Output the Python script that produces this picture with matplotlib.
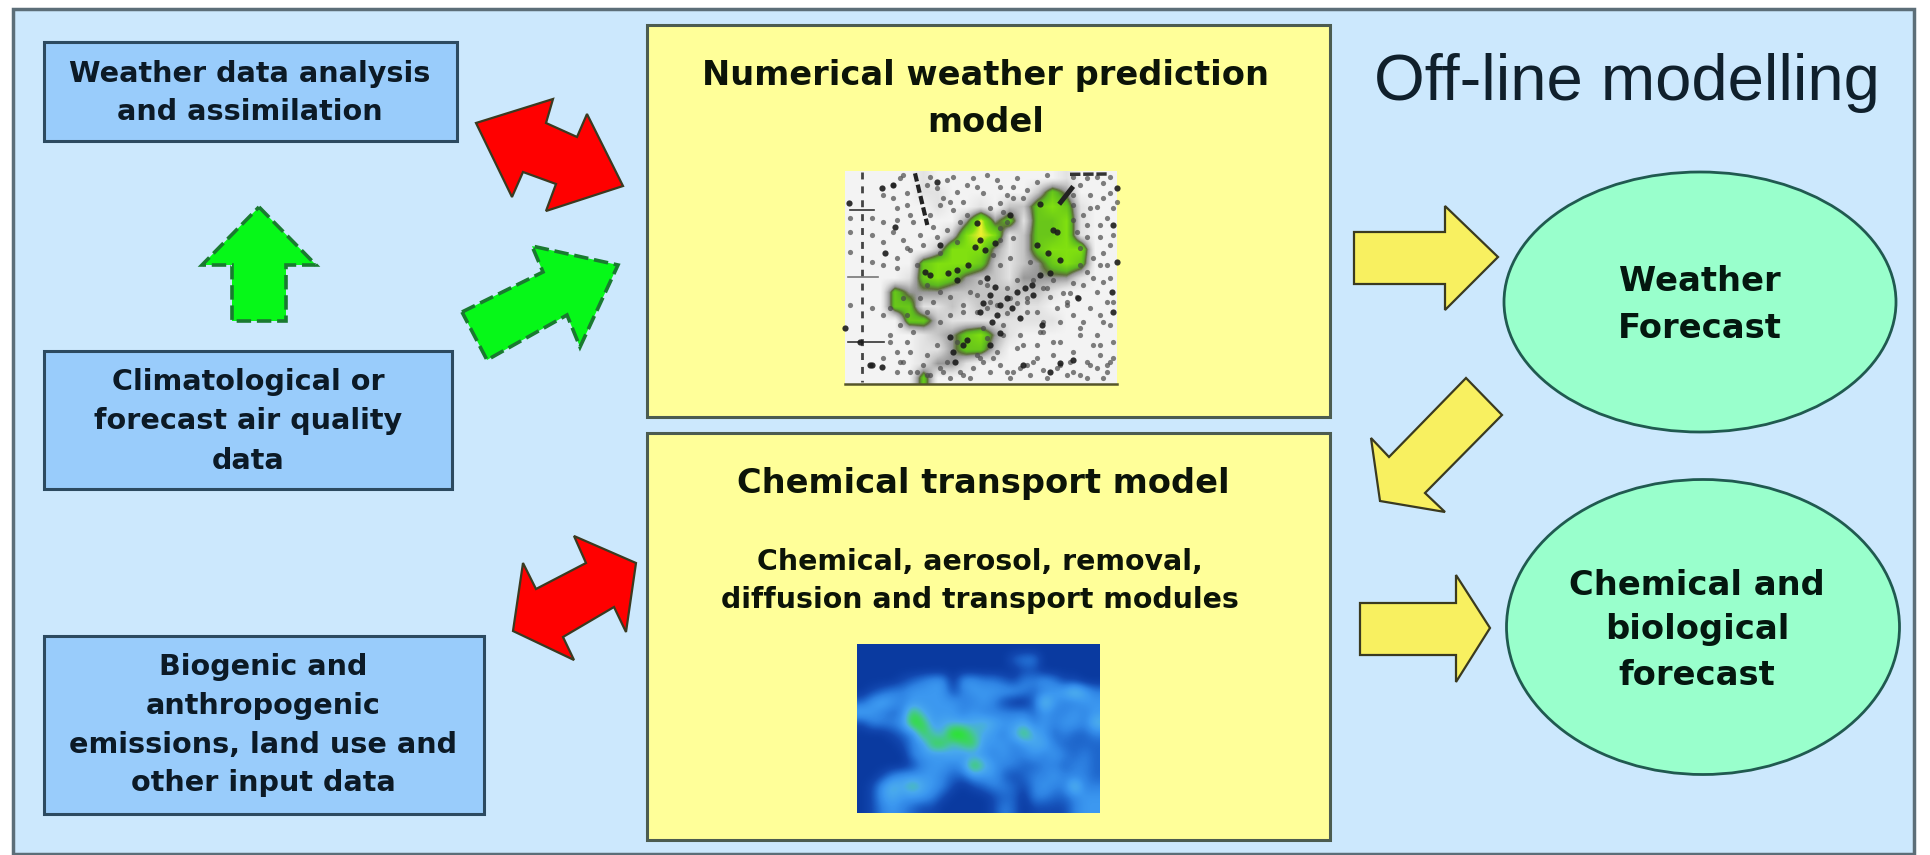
#!/usr/bin/env python3
"""Off-line modelling flow diagram, drawn in pixel coordinates of the 1931x855 page."""

import matplotlib
matplotlib.use("Agg")
import matplotlib.pyplot as plt
from matplotlib.colors import LinearSegmentedColormap
from matplotlib.patches import Ellipse, Polygon, Rectangle
import numpy as np

TITLE = "Off-line modelling"
INPUT_LABELS = [
    ["Weather data analysis", "and assimilation"],
    ["Climatological or", "forecast air quality", "data"],
    ["Biogenic and", "anthropogenic", "emissions, land use and", "other input data"],
]
NWP_LABEL = ["Numerical weather prediction", "model"]
CTM_LABEL = "Chemical transport model"
CTM_DETAIL = ["Chemical, aerosol, removal,", "diffusion and transport modules"]
FORECAST_LABELS = [["Weather", "Forecast"], ["Chemical and", "biological", "forecast"]]

CTM_MAP = [
    [0, 0, 0, 0, 0, 0, 0, 0, 0, 0, 0, 0, 0, 0, 0, 0, 0, 0, 0, 0, 0, 0, 0, 0],
    [0, 0, 0, 0, 0, 0, 0, 0, 0, 0, 0, 0, 0, 0, 0, 2, 3, 3, 0, 0, 0, 0, 0, 0],
    [0, 0, 0, 0, 0, 0, 0, 0, 0, 0, 0, 0, 0, 0, 0, 0, 1, 1, 0, 0, 0, 0, 0, 0],
    [0, 0, 0, 0, 1, 2, 3, 4, 4, 0, 4, 4, 3, 3, 2, 1, 3, 3, 4, 3, 1, 1, 0, 0],
    [0, 1, 2, 3, 3, 4, 4, 4, 4, 1, 3, 4, 4, 4, 4, 4, 3, 2, 3, 4, 5, 7, 5, 3],
    [2, 4, 5, 4, 3, 4, 4, 4, 4, 4, 3, 3, 4, 3, 1, 0, 0, 2, 7, 4, 3, 3, 4, 4],
    [5, 4, 3, 2, 3, 8, 5, 4, 4, 4, 3, 4, 3, 3, 3, 3, 3, 2, 4, 3, 3, 4, 3, 4],
    [1, 3, 3, 3, 4, 9, 8, 4, 5, 5, 5, 5, 6, 5, 4, 4, 5, 3, 4, 3, 4, 4, 3, 6],
    [0, 0, 0, 1, 2, 3, 8, 6, 5, 10, 9, 6, 5, 4, 3, 5, 8, 5, 4, 2, 3, 2, 2, 3],
    [0, 0, 0, 0, 1, 3, 4, 8, 8, 5, 7, 8, 4, 4, 4, 3, 4, 5, 5, 3, 2, 2, 2, 2],
    [0, 0, 0, 0, 0, 3, 4, 4, 4, 5, 4, 4, 4, 3, 4, 3, 3, 4, 3, 4, 3, 2, 3, 2],
    [0, 0, 0, 0, 0, 1, 3, 4, 4, 3, 4, 9, 6, 4, 3, 3, 2, 2, 3, 3, 2, 3, 3, 2],
    [0, 0, 1, 3, 4, 4, 4, 4, 3, 2, 2, 4, 4, 4, 2, 1, 2, 3, 3, 4, 3, 3, 3, 2],
    [0, 1, 4, 6, 5, 7, 5, 4, 3, 1, 0, 1, 2, 3, 3, 2, 1, 3, 4, 3, 3, 7, 3, 3],
    [0, 1, 4, 5, 4, 4, 4, 3, 1, 0, 0, 0, 0, 1, 2, 2, 0, 3, 3, 2, 2, 3, 4, 4],
    [0, 1, 3, 4, 3, 2, 1, 1, 0, 0, 0, 0, 0, 1, 3, 2, 0, 1, 1, 1, 1, 3, 4, 4],
]

# weather map haze and cloud cover: 0 paper, 1-3 grey, 4 dark, 5-6 green, 7 yellow
NWP_MAP = [
    [0, 0, 0, 0, 0, 1, 0, 0, 0, 0, 0, 0, 0, 0, 0, 1, 0, 0, 0],
    [0, 0, 0, 0, 0, 1, 1, 0, 0, 0, 0, 0, 0, 2, 5, 3, 0, 0, 0],
    [0, 0, 0, 0, 0, 0, 1, 0, 0, 1, 0, 2, 2, 5, 6, 5, 1, 0, 0],
    [0, 0, 0, 0, 0, 0, 0, 0, 3, 7, 3, 5, 1, 5, 5, 6, 1, 0, 0],
    [0, 0, 0, 0, 0, 0, 0, 2, 6, 7, 6, 1, 2, 5, 5, 6, 1, 0, 0],
    [0, 0, 0, 0, 0, 0, 2, 6, 6, 6, 3, 1, 2, 5, 6, 6, 6, 0, 0],
    [0, 0, 0, 0, 0, 5, 6, 6, 6, 5, 2, 1, 2, 3, 5, 6, 5, 0, 0],
    [0, 0, 0, 0, 1, 5, 6, 5, 3, 2, 2, 1, 3, 3, 3, 3, 1, 0, 0],
    [0, 0, 0, 5, 3, 3, 3, 2, 2, 2, 2, 2, 2, 2, 1, 0, 0, 0, 0],
    [0, 0, 0, 5, 5, 1, 1, 2, 1, 2, 2, 2, 1, 1, 0, 0, 0, 0, 0],
    [0, 0, 0, 0, 5, 5, 2, 1, 1, 1, 1, 1, 1, 1, 1, 0, 0, 0, 0],
    [0, 0, 0, 0, 0, 1, 2, 3, 5, 6, 3, 1, 0, 0, 0, 0, 0, 0, 0],
    [0, 0, 0, 0, 0, 1, 1, 3, 5, 5, 2, 0, 0, 0, 0, 0, 0, 0, 0],
    [0, 0, 0, 0, 0, 1, 3, 3, 1, 0, 0, 0, 0, 0, 0, 0, 0, 0, 0],
    [0, 0, 0, 0, 0, 5, 0, 0, 0, 0, 0, 0, 0, 0, 0, 0, 0, 0, 0],
]

# station plots (3x crop pixels)
DARK_SPECKS_X = [28, 125, 165, 135, 300, 410, 465, 600, 640, 660, 630, 555, 450, 430, 515, 470, 540, 605,
                 715, 820, 830, 820, 830, 815, 370, 340, 95, 125, 330, 450, 480, 550, 660, 700, 630, 350, 270,
                 350, 405, 435, 600, 580, 160, 290, 510, 255, 325, 385, 420, 590, 625, 650, 440, 465, 500, 480,
                 530, 455, 420, 575, 345, 380, 90, 15, 60]
DARK_SPECKS_Y = [115, 68, 185, 265, 240, 175, 235, 118, 195, 285, 325, 370, 390, 415, 430, 450, 460, 480,
                 400, 440, 70, 180, 290, 380, 540, 560, 600, 605, 515, 540, 505, 600, 595, 585, 620, 345, 330,
                 315, 245, 255, 330, 390, 60, 50, 150, 320, 325, 300, 225, 240, 265, 200, 340, 365, 400, 420,
                 380, 470, 440, 360, 590, 525, 600, 490, 530]
GREY_SPECKS_X = [180, 200, 270, 290, 320, 350, 380, 400, 430, 470, 500, 530, 560, 590, 620, 720, 750, 790, 810,
                 170, 210, 300, 340, 370, 450, 490, 520, 700, 730, 770, 800, 820, 160, 190, 240, 280, 320, 360,
                 480, 710, 740, 780, 810, 170, 200, 250, 300, 720, 760, 790, 170, 230, 480, 510, 570, 640, 700,
                 740, 780, 810, 280, 330, 390, 440, 500, 560, 620, 680, 730, 770, 800, 190, 260, 410, 470, 530,
                 590, 650, 700, 750, 790, 180, 220, 300, 430, 490, 540, 600, 660, 720, 770, 810, 170, 210, 260,
                 320, 410, 470, 530, 590, 640, 700, 760, 800, 180, 230, 400, 460, 520, 580, 640, 700, 750, 790,
                 270, 330, 390, 450, 510, 570, 620, 680, 740, 800,
                 160, 190, 260, 310, 340, 410, 440, 480, 520, 550, 700, 740, 770, 810, 130, 160, 200, 330, 380,
                 480, 500, 700, 750, 790, 830, 170, 220, 270, 480, 520, 700, 740, 780, 820, 210, 290, 350, 420,
                 460, 530, 580, 610, 690, 720, 760, 800, 240, 300, 370, 410, 450, 510, 560, 630, 670, 710, 790,
                 820, 150, 200, 260, 330, 370, 440, 500, 560, 610, 680, 730, 780, 150, 200, 290, 350, 440, 490,
                 550, 610, 660, 720, 780, 820, 150, 190, 250, 300, 360, 420, 480, 540, 590, 650, 690, 740, 780,
                 820, 130, 170, 210, 260, 310, 370, 430, 500, 560, 610, 660, 720, 770, 810, 30, 95, 130, 95, 30,
                 130, 30, 95, 130, 30, 95, 130]
GREY_SPECKS_Y = [40, 85, 35, 70, 45, 80, 60, 40, 85, 45, 90, 40, 75, 50, 30, 60, 90, 55, 85,
                 130, 150, 120, 135, 110, 130, 140, 100, 120, 150, 125, 160, 130, 200, 225, 210, 185, 195, 170,
                 190, 200, 180, 215, 240, 280, 250, 240, 265, 250, 280, 265, 310, 300, 300, 280, 290, 345, 355,
                 320, 300, 340, 410, 395, 380, 360, 370, 400, 370, 410, 360, 380, 410, 400, 360, 440, 420, 415,
                 440, 430, 450, 430, 470, 480, 500, 470, 490, 480, 510, 500, 470, 490, 510, 480, 560, 560, 570,
                 590, 570, 560, 550, 540, 530, 560, 540, 600, 590, 620, 610, 580, 620, 590, 570, 620, 600, 640,
                 630, 640, 640, 620, 640, 630, 640, 630, 640, 620,
                 60, 30, 60, 100, 35, 65, 30, 65, 65, 100, 35, 40, 35, 35, 90, 100, 120, 110, 150,
                 115, 170, 90, 130, 100, 110, 165, 170, 150, 225, 220, 165, 215, 180, 210, 255, 215, 230, 350,
                 270, 345, 345, 370, 385, 300, 340, 300, 400, 380, 420, 390, 410, 400, 410, 395, 385, 395, 350,
                 410, 430, 450, 440, 450, 440, 430, 445, 440, 470, 420, 470, 450, 510, 530, 540, 530, 520, 510,
                 540, 500, 530, 510, 540, 530, 530, 590, 600, 610, 620, 580, 600, 610, 580, 610, 590, 590, 570,
                 580, 580, 620, 620, 630, 620, 630, 590, 620, 600, 615, 600, 630, 610, 590, 160, 160, 170, 210,
                 200, 230, 260, 290, 300, 420, 430, 450]
STROKE_X = [225, 262]
STROKE_Y = [25, 180]
CORNER_STROKE_X = [695, 662]
CORNER_STROKE_Y = [70, 112]
TOP_STROKE_X = [690, 800]
TOP_STROKE_Y = [28, 27]

PAGE_W, PAGE_H = 1931, 855
FRAME_EDGE = "#5c6e78"
PANEL_BG = "#cce8fd"
INPUT_BG = "#99ccfb"
MODEL_BG = "#ffff99"
FORECAST_BG = "#99ffcc"
ARROW_YELLOW = "#f8f060"
INK = "#0c1a26"
NWP_CROP = (840, 165)


def draw_lines(ax, lines, x, ys, size, color=INK):
    for line, y in zip(lines, ys):
        ax.text(x, y, line, ha="center", va="center", fontsize=size, fontweight="bold",
                family="DejaVu Sans", color=color, zorder=6)


def draw_box(ax, x0, y0, x1, y1, face, edge="#2c4a60", lw=2.2):
    ax.add_patch(Rectangle((x0, y0), x1 - x0, y1 - y0, facecolor=face, edgecolor=edge, linewidth=lw, zorder=2))


def draw_arrow(ax, pts, face, edge="#3a3a20", lw=1.6, dashed=False):
    ax.add_patch(Polygon(pts, closed=True, facecolor=face, edgecolor=edge, linewidth=lw,
                         linestyle=(0, (4, 1.6)) if dashed else "-", joinstyle="miter", zorder=4))


def crop_xy(xs, ys):
    return NWP_CROP[0] + np.array(xs) / 3, NWP_CROP[1] + np.array(ys) / 3


def main():
    fig = plt.figure(figsize=(PAGE_W / 100, PAGE_H / 100), dpi=100, facecolor="white")
    ax = fig.add_axes([0, 0, 1, 1])
    ax.set_xlim(0, PAGE_W)
    ax.set_ylim(PAGE_H, 0)
    ax.axis("off")

    draw_box(ax, 13, 9, 1914, 854, PANEL_BG, edge=FRAME_EDGE, lw=2.5)

    # input boxes on the left
    draw_box(ax, 44, 42, 457, 141, INPUT_BG)
    draw_box(ax, 44, 351, 452, 489, INPUT_BG)
    draw_box(ax, 44, 636, 484, 814, INPUT_BG)
    draw_lines(ax, INPUT_LABELS[0], 250, [74, 112], 20.6)
    draw_lines(ax, INPUT_LABELS[1], 248, [382, 421, 461], 20.6)
    draw_lines(ax, INPUT_LABELS[2], 263, [667, 706, 745, 783], 20.6)

    # model boxes in the middle
    draw_box(ax, 647, 25, 1330, 417, MODEL_BG, edge="#4c5c50")
    draw_box(ax, 647, 433, 1330, 840, MODEL_BG, edge="#4c5c50")
    draw_lines(ax, NWP_LABEL, 986, [76, 122], 24.2, color="#0c1408")
    draw_lines(ax, [CTM_LABEL], 983, [483], 24.2, color="#0c1408")
    draw_lines(ax, CTM_DETAIL, 980, [562, 600], 20.4, color="#0c1408")

    # weather map
    nwp_cmap = LinearSegmentedColormap.from_list(
        "nwp", [(0, "#f3f3f3"), (1 / 7, "#e2e2e2"), (2 / 7, "#c4c4c4"), (3 / 7, "#989898"),
                (3.6 / 7, "#5c7038"), (4.4 / 7, "#5cb820"), (6 / 7, "#80e010"), (1, "#f0f030")])
    ax.imshow(NWP_MAP, cmap=nwp_cmap, vmin=0, vmax=7, interpolation="bilinear",
              extent=(845, 1117, 385, 172), aspect="auto", zorder=3)
    ax.scatter(*crop_xy(GREY_SPECKS_X, GREY_SPECKS_Y), s=14, color="#4a4a4a", alpha=0.7, linewidths=0, zorder=3.2)
    ax.scatter(*crop_xy(DARK_SPECKS_X, DARK_SPECKS_Y), s=20, color="#1c1c1c", alpha=0.9, linewidths=0, zorder=3.3)
    ax.plot(*crop_xy(STROKE_X, STROKE_Y), color="#222222", lw=3, ls=(0, (2, 0.8)), zorder=3.3)
    ax.plot(*crop_xy(CORNER_STROKE_X, CORNER_STROKE_Y), color="#222222", lw=3.5, zorder=3.3)
    ax.plot(*crop_xy(TOP_STROKE_X, TOP_STROKE_Y), color="#333333", lw=2.5, ls=(0, (3, 0.8)), zorder=3.3)
    ax.plot([862, 862], [172, 382], color="#444444", lw=2, ls=(0, (2.5, 2.5)), zorder=3.2)
    ax.plot([850, 874], [210, 210], color="#333333", lw=1.2, zorder=3.2)
    ax.plot([848, 878], [277, 277], color="#777777", lw=1.2, zorder=3.2)
    ax.plot([848, 884], [342, 342], color="#333333", lw=1.2, zorder=3.2)
    ax.plot([845, 1117], [384, 384], color="#55552a", lw=1.8, zorder=3.4)

    # concentration map
    ctm_cmap = LinearSegmentedColormap.from_list(
        "ctm", [(0, "#0a3aa0"), (0.1, "#1248b0"), (0.2, "#1e66cc"), (0.3, "#2f84e4"), (0.4, "#3c98f0"),
                (0.5, "#48a8ee"), (0.6, "#48c0b0"), (0.7, "#40d070"), (0.8, "#30e040"), (1, "#10d010")])
    ax.imshow(CTM_MAP, cmap=ctm_cmap, vmin=0, vmax=10, interpolation="bicubic",
              extent=(857, 1100, 813, 645), aspect="auto", zorder=3)

    # arrows between inputs and models
    draw_arrow(ax, [(476, 123), (553, 99), (546, 123), (577, 137), (587, 114), (623, 186),
                    (546, 211), (556, 184), (523, 172), (512, 197)], "#ff0000")
    draw_arrow(ax, [(574, 536), (636, 563), (626, 632), (614, 607), (563, 637), (574, 660),
                    (513, 631), (523, 563), (536, 589), (586, 563)], "#ff0000")
    draw_arrow(ax, [(259, 207), (316, 265), (286, 265), (286, 321), (232, 321), (232, 265), (202, 265)],
               "#06f818", edge="#1a7a30", lw=2.6, dashed=True)
    draw_arrow(ax, [(462, 312), (543, 272), (532, 246), (618, 265), (580, 347), (567, 315), (487, 360)],
               "#06f818", edge="#1a7a30", lw=2.6, dashed=True)

    # arrows towards the forecasts
    draw_arrow(ax, [(1354, 232), (1445, 232), (1445, 206), (1498, 257), (1445, 310), (1445, 284), (1354, 284)],
               ARROW_YELLOW)
    draw_arrow(ax, [(1466, 378), (1502, 415), (1425, 493), (1445, 512), (1380, 501), (1371, 438), (1389, 457)],
               ARROW_YELLOW)
    draw_arrow(ax, [(1360, 603), (1456, 603), (1456, 575), (1490, 628), (1456, 682), (1456, 655), (1360, 655)],
               ARROW_YELLOW)

    # forecast ellipses
    ax.add_patch(Ellipse((1700, 302), 392, 260, facecolor=FORECAST_BG, edgecolor="#205a50", linewidth=2, zorder=2))
    ax.add_patch(Ellipse((1703, 627), 393, 295, facecolor=FORECAST_BG, edgecolor="#205a50", linewidth=2, zorder=2))
    draw_lines(ax, FORECAST_LABELS[0], 1700, [281, 328], 24.3, color="#04170f")
    draw_lines(ax, FORECAST_LABELS[1], 1697, [585, 629, 675], 24.3, color="#04170f")

    ax.text(1627, 100, TITLE, ha="center", va="baseline", fontsize=47, family="Liberation Sans",
            color="#10202c", zorder=6)

    fig.savefig("out.png", dpi=100)


if __name__ == "__main__":
    main()
